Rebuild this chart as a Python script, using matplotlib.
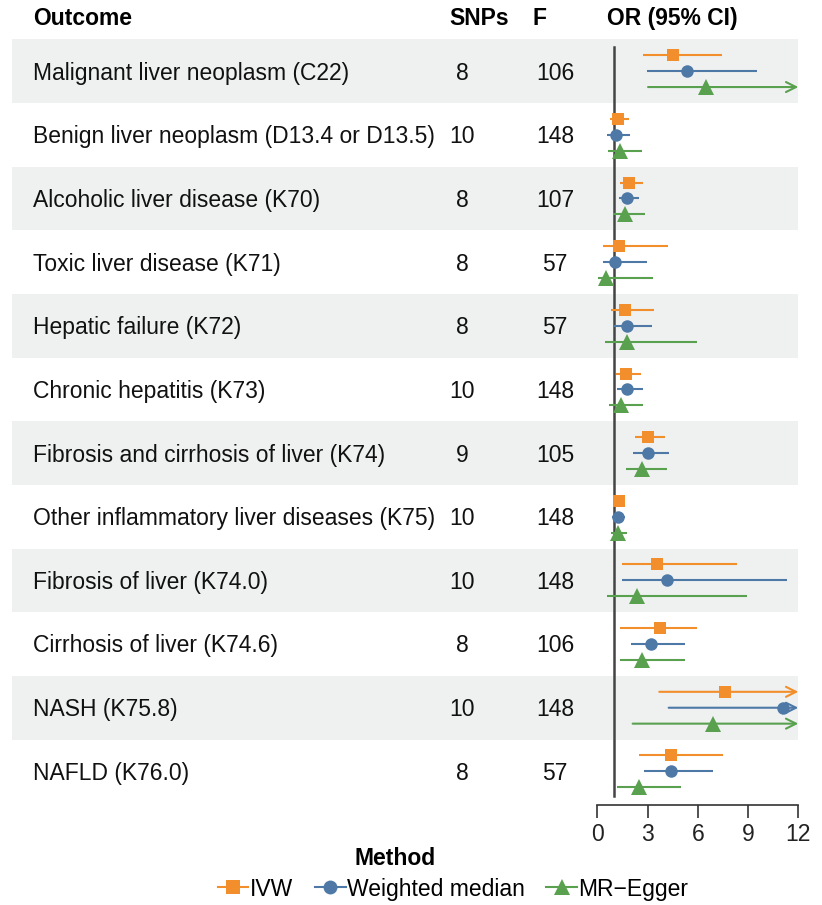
import matplotlib
matplotlib.use("Agg")
import matplotlib.pyplot as plt
from matplotlib.lines import Line2D

plt.rcParams['font.family'] = ['Liberation Sans', 'DejaVu Sans']

outcomes = [
    "Malignant liver neoplasm (C22)",
    "Benign liver neoplasm (D13.4 or D13.5)",
    "Alcoholic liver disease (K70)",
    "Toxic liver disease (K71)",
    "Hepatic failure (K72)",
    "Chronic hepatitis (K73)",
    "Fibrosis and cirrhosis of liver (K74)",
    "Other inflammatory liver diseases (K75)",
    "Fibrosis of liver (K74.0)",
    "Cirrhosis of liver (K74.6)",
    "NASH (K75.8)",
    "NAFLD (K76.0)",
]
snps = [8, 10, 8, 8, 8, 10, 9, 10, 10, 8, 10, 8]
f_stat = [106, 148, 107, 57, 57, 148, 105, 148, 148, 106, 148, 57]

# Odds ratios with 95% confidence limits per method
ivw_or = [4.50, 1.24, 1.91, 1.31, 1.67, 1.71, 3.03, 1.31, 3.58, 3.74, 7.64, 4.38]
ivw_lo = [2.71, 0.76, 1.36, 0.36, 0.80, 1.12, 2.23, 1.00, 1.47, 1.36, 3.70, 2.51]
ivw_hi = [7.47, 1.91, 2.71, 4.22, 3.39, 2.59, 4.06, 1.59, 8.32, 5.93, 14.5, 7.52]

wm_or = [5.33, 1.12, 1.77, 1.07, 1.75, 1.79, 3.03, 1.24, 4.18, 3.22, 11.07, 4.38]
wm_lo = [2.99, 0.60, 1.28, 0.36, 0.92, 1.16, 2.15, 0.90, 1.47, 1.99, 4.26, 2.79]
wm_hi = [9.51, 1.95, 2.49, 2.95, 3.27, 2.75, 4.26, 1.67, 11.31, 5.25, 16.0, 6.89]

egger_or = [6.49, 1.36, 1.64, 0.52, 1.75, 1.43, 2.67, 1.24, 2.35, 2.67, 6.89, 2.47]
egger_lo = [3.03, 0.66, 0.96, 0.06, 0.48, 0.72, 1.71, 0.84, 0.56, 1.36, 2.11, 1.19]
egger_hi = [15.2, 2.67, 2.87, 3.31, 5.97, 2.71, 4.18, 1.79, 8.92, 5.25, 25.0, 4.98]

methods = ["IVW", "Weighted median", "MR\u2212Egger"]
colors = ["#F28E2B", "#4E79A7", "#59A14F"]
markers = ["s", "o", "^"]
msizes = [9, 9, 11]
offsets = [-0.25, 0.0, 0.25]

x_ticks = [0, 3, 6, 9, 12]
x_max = 12

FS = 16.5
W, H = 822, 905
fig = plt.figure(figsize=(W / 100, H / 100), dpi=100)

def fx(px):
    return px / W

def fy(py):
    return 1 - py / H

top_px, bot_px = 39.3, 804.5
n = len(outcomes)

# background table axes (bands + text)
ax_tab = fig.add_axes([fx(12), fy(bot_px), fx(798) - fx(12), fy(top_px) - fy(bot_px)])
ax_tab.set_xlim(12, 798)
ax_tab.set_ylim(n + 0.5 + 0.02, 0.5)
ax_tab.axis("off")
for i in range(n):
    if i % 2 == 0:
        ax_tab.axhspan(i + 0.5, i + 1.5, color="#EEF1F0", lw=0, zorder=0)
    y = i + 1.03
    ax_tab.text(33, y, outcomes[i], fontsize=FS, va="center", ha="left", color="#111111")
    ax_tab.text(462, y, str(snps[i]), fontsize=FS, va="center", ha="center", color="#111111")
    ax_tab.text(555, y, str(f_stat[i]), fontsize=FS, va="center", ha="center", color="#111111")

fig.text(fx(33), fy(18.5), "Outcome", fontsize=FS, fontweight="bold", va="center", ha="left")
fig.text(fx(449), fy(18.5), "SNPs", fontsize=FS, fontweight="bold", va="center", ha="left")
fig.text(fx(532), fy(18.5), "F", fontsize=FS, fontweight="bold", va="center", ha="left")
fig.text(fx(607), fy(18.5), "OR (95% CI)", fontsize=FS, fontweight="bold", va="center", ha="left")

# forest axes
ax = fig.add_axes([fx(597.3), fy(bot_px), fx(798.3) - fx(597.3), fy(top_px) - fy(bot_px)])
ax.patch.set_alpha(0)
ax.set_xlim(0, x_max)
ax.set_ylim(n + 0.5 + 0.02, 0.5)
for s in ["top", "right", "left"]:
    ax.spines[s].set_visible(False)
ax.spines["bottom"].set_color("#333333")
ax.spines["bottom"].set_linewidth(1.2)
ax.set_yticks([])
ax.set_xticks(x_ticks)
ax.tick_params(axis="x", length=9, width=1.2, color="#333333", labelsize=FS, pad=4, labelcolor="#222222")

ax.plot([1, 1], [0.62, n + 0.38], color="#444444", lw=1.8, zorder=2)

series = [
    (ivw_or, ivw_lo, ivw_hi),
    (wm_or, wm_lo, wm_hi),
    (egger_or, egger_lo, egger_hi),
]
for k, (est, lo, hi) in enumerate(series):
    c = colors[k]
    for i in range(n):
        y = i + 1 + offsets[k]
        if hi[i] > x_max:
            ax.annotate("", xy=(x_max, y), xytext=(lo[i], y),
                        arrowprops=dict(arrowstyle="->", color=c, lw=1.5,
                                        shrinkA=0, shrinkB=0, mutation_scale=18),
                        annotation_clip=False, zorder=3)
        else:
            ax.plot([lo[i], hi[i]], [y, y], color=c, lw=1.5, zorder=3, solid_capstyle="butt")
        ax.plot(est[i], y, marker=markers[k], color=c, markersize=msizes[k],
                markeredgewidth=0, zorder=4, clip_on=False)

# legend
fig.text(fx(395), fy(858), "Method", fontsize=FS, fontweight="bold", ha="center", va="center")
handles = [Line2D([0], [0], color=colors[k], marker=markers[k], markersize=msizes[k] + 1,
                  markeredgewidth=0, lw=1.5) for k in range(3)]
fig.legend(handles, methods, loc="center", bbox_to_anchor=(fx(453), fy(889)), ncol=3,
           frameon=False, fontsize=FS, handlelength=1.35, handletextpad=0.05,
           columnspacing=0.95, borderaxespad=0)

fig.savefig("out.png", dpi=100)
